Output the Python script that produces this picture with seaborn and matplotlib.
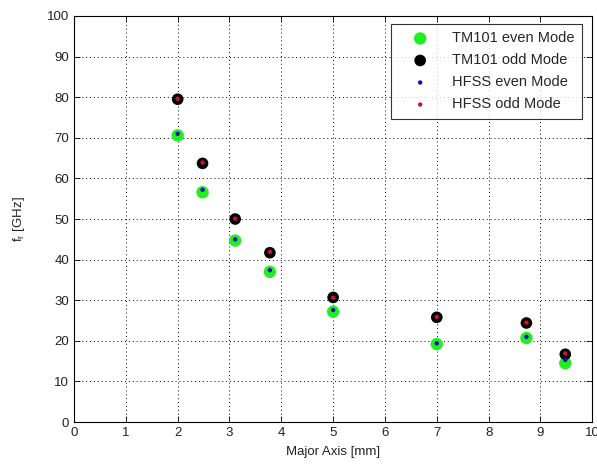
import matplotlib
matplotlib.use("Agg")
import matplotlib.pyplot as plt
import seaborn as sns
import pandas as pd

sns.set_style("white")
plt.rcParams['font.family'] = ['Liberation Sans', 'DejaVu Sans']

major_axis = [2.0, 2.48, 3.11, 3.78, 5.0, 7.0, 8.73, 9.48]
tm_even = [70.6, 56.6, 44.7, 37.0, 27.2, 19.2, 20.7, 14.5]
tm_odd = [79.5, 63.7, 50.0, 41.7, 30.7, 25.8, 24.4, 16.7]
hfss_even = [71.0, 57.2, 45.0, 37.4, 27.6, 19.4, 21.0, 15.3]
hfss_odd = [79.6, 63.9, 50.1, 41.9, 30.6, 25.9, 24.5, 16.9]

labels = ["TM101 even Mode", "TM101 odd Mode", "HFSS even Mode", "HFSS odd Mode"]
series = [tm_even, tm_odd, hfss_even, hfss_odd]
colors = ["#22ee22", "#000000", "#1010c0", "#d01030"]
sizes = [80, 70, 10, 10]

fig = plt.figure(figsize=(5.97, 4.69), dpi=100)
ax = fig.add_axes([0.124, 0.100, 0.868, 0.866])

for lab, vals, c, s in zip(labels, series, colors, sizes):
    df = pd.DataFrame({"x": major_axis, "y": vals})
    sns.scatterplot(data=df, x="x", y="y", ax=ax, color=c, s=s,
                    edgecolor="none", label=lab, zorder=3)

ax.set_xlim(0, 10)
ax.set_ylim(0, 100)
ax.set_xticks(range(0, 11))
ax.set_yticks(range(0, 101, 10))
ax.grid(True, linestyle=(0, (1, 3)), color="black", linewidth=0.7)
ax.tick_params(direction="in", length=4, top=True, right=True, bottom=True, left=True,
               labelsize=9.5, colors="black", labelcolor="#222222", width=0.6)
for sp in ax.spines.values():
    sp.set_color("black")
    sp.set_linewidth(0.8)
ax.set_xlabel("Major Axis [mm]", fontsize=9.5, labelpad=5, color="#222222")
ax.set_ylabel("f$_\\mathregular{r}$ [GHz]", fontsize=9.5, labelpad=14, color="#222222")

leg = ax.legend(loc="upper left", bbox_to_anchor=(391 / 597, 1 - 24 / 469),
                bbox_transform=fig.transFigure, fontsize=10.5, frameon=True,
                fancybox=False, edgecolor="black", borderpad=0.5, labelspacing=0.55,
                handlelength=3.0, handletextpad=0.7, borderaxespad=0.0,
                markerscale=1.0)
leg.get_frame().set_linewidth(0.8)

fig.savefig("out.png", dpi=100, facecolor="white")
